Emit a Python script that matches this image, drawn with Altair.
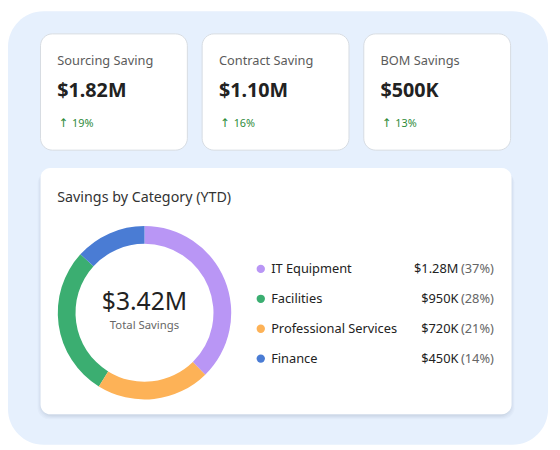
import altair as alt
import pandas as pd

# ---------------- data ----------------
kpi_titles = ["Sourcing Saving", "Contract Saving", "BOM Savings"]
kpi_values = ["$1.82M", "$1.10M", "$500K"]
kpi_changes = ["19%", "16%", "13%"]
up_arrow = "↑"

categories = ["IT Equipment", "Facilities", "Professional Services", "Finance"]
cat_amounts = [1280, 950, 720, 450]
cat_amount_labels = ["$1.28M", "$950K", "$720K", "$450K"]
cat_pct_labels = ["(37%)", "(28%)", "(21%)", "(14%)"]
cat_colors = ["#b996f5", "#3bae71", "#fdb257", "#4a7cd4"]
donut_order = ["IT Equipment", "Professional Services", "Facilities", "Finance"]

panel_title = "Savings by Category (YTD)"
total_label = "$3.42M"
total_caption = "Total Savings"

FONT = "Segoe UI, Noto Sans, sans-serif"
W, H = 552, 442

one = pd.DataFrame({"k": [0]})


def box(x1, y1, x2, y2, fill, radius, stroke=None, sw=0, opacity=1.0):
    kw = dict(fill=fill, cornerRadius=radius, opacity=opacity)
    if stroke:
        kw.update(stroke=stroke, strokeWidth=sw)
    return alt.Chart(one).mark_rect(**kw).encode(
        x=alt.value(x1), x2=alt.value(x2), y=alt.value(y1), y2=alt.value(y2)
    )


layers = []
# background panel
layers.append(box(0, 0, 548, 440, "#e6f0fd", 36))

# KPI cards
for i in range(3):
    x0 = 33 + 164 * i
    layers.append(box(x0, 23, x0 + 149, 141, "#ffffff", 12, stroke="#d6dbe2", sw=1))

# main card shadow + card
for d, op in [(4, 0.035), (3, 0.04), (2, 0.05), (1, 0.06)]:
    layers.append(box(33 - d + 1, 159 + d, 511 + d - 1, 409 + d + 1, "#6b7a90", 12, opacity=op))
layers.append(box(33, 159, 511, 409, "#ffffff", 10))

# KPI texts
kpi_df = pd.DataFrame({"title": kpi_titles, "value": kpi_values, "change": kpi_changes})
kx = alt.X("title:N", scale=alt.Scale(type="point", domain=kpi_titles, range=[50, 378], padding=0), axis=None)
kbase = alt.Chart(kpi_df).encode(x=kx)
layers.append(kbase.mark_text(align="left", baseline="middle", font=FONT, fontSize=13, color="#5b5b5b")
              .encode(y=alt.value(51), text="title:N"))
layers.append(kbase.mark_text(align="left", baseline="middle", font=FONT, fontSize=20, fontWeight="bold", color="#222222")
              .encode(y=alt.value(81), text="value:N"))
layers.append(kbase.mark_text(align="center", baseline="middle", font="DejaVu Sans", fontSize=12, color="#2e8b3a", dx=6.5)
              .encode(y=alt.value(114), text=alt.value(up_arrow)))
layers.append(kbase.mark_text(align="left", baseline="middle", font=FONT, fontSize=11, color="#2e8b3a", dx=15)
              .encode(y=alt.value(114), text="change:N"))

# panel title
layers.append(alt.Chart(pd.DataFrame({"t": [panel_title]})).mark_text(
    align="left", baseline="middle", font=FONT, fontSize=14.5, color="#333333"
).encode(x=alt.value(50), y=alt.value(189.5), text="t:N"))

# donut
cat_df = pd.DataFrame({
    "cat": categories,
    "amount": cat_amounts,
    "amt": cat_amount_labels,
    "pct": cat_pct_labels,
    "rank": [donut_order.index(c) for c in categories],
})
color = alt.Color("cat:N", scale=alt.Scale(domain=categories, range=cat_colors), legend=None)
layers.append(alt.Chart(cat_df).mark_arc(innerRadius=70, outerRadius=88).encode(
    theta=alt.Theta("amount:Q", stack=True),
    color=color,
    order=alt.Order("rank:Q"),
    x=alt.value(138.5), y=alt.value(306),
))

# donut centre text
layers.append(alt.Chart(pd.DataFrame({"t": [total_label]})).mark_text(
    align="center", baseline="middle", font=FONT, fontSize=25, color="#222222"
).encode(x=alt.value(138.5), y=alt.value(295), text="t:N"))
layers.append(alt.Chart(pd.DataFrame({"t": [total_caption]})).mark_text(
    align="center", baseline="middle", font=FONT, fontSize=11.5, color="#666666"
).encode(x=alt.value(138.5), y=alt.value(319), text="t:N"))

# legend rows
ly = alt.Y("cat:N", scale=alt.Scale(type="point", domain=categories, range=[261.5, 352.5], padding=0), axis=None)
lbase = alt.Chart(cat_df).encode(y=ly)
layers.append(lbase.mark_circle(size=72, opacity=1).encode(x=alt.value(256.5), color=color))
layers.append(lbase.mark_text(align="left", baseline="middle", font=FONT, fontSize=13, color="#222222")
              .encode(x=alt.value(267), text="cat:N"))
layers.append(lbase.mark_text(align="right", baseline="middle", font=FONT, fontSize=13, color="#222222")
              .encode(x=alt.value(457), text="amt:N"))
layers.append(lbase.mark_text(align="right", baseline="middle", font=FONT, fontSize=13, color="#666666")
              .encode(x=alt.value(493), text="pct:N"))

chart = alt.layer(*layers).properties(
    width=W, height=H, padding=0, autosize=alt.AutoSizeParams(type="none"), background="#ffffff"
).resolve_scale(x="independent", y="independent").configure_view(strokeWidth=0)

chart.save("out.html", embed_options={"renderer": "svg", "actions": False})
